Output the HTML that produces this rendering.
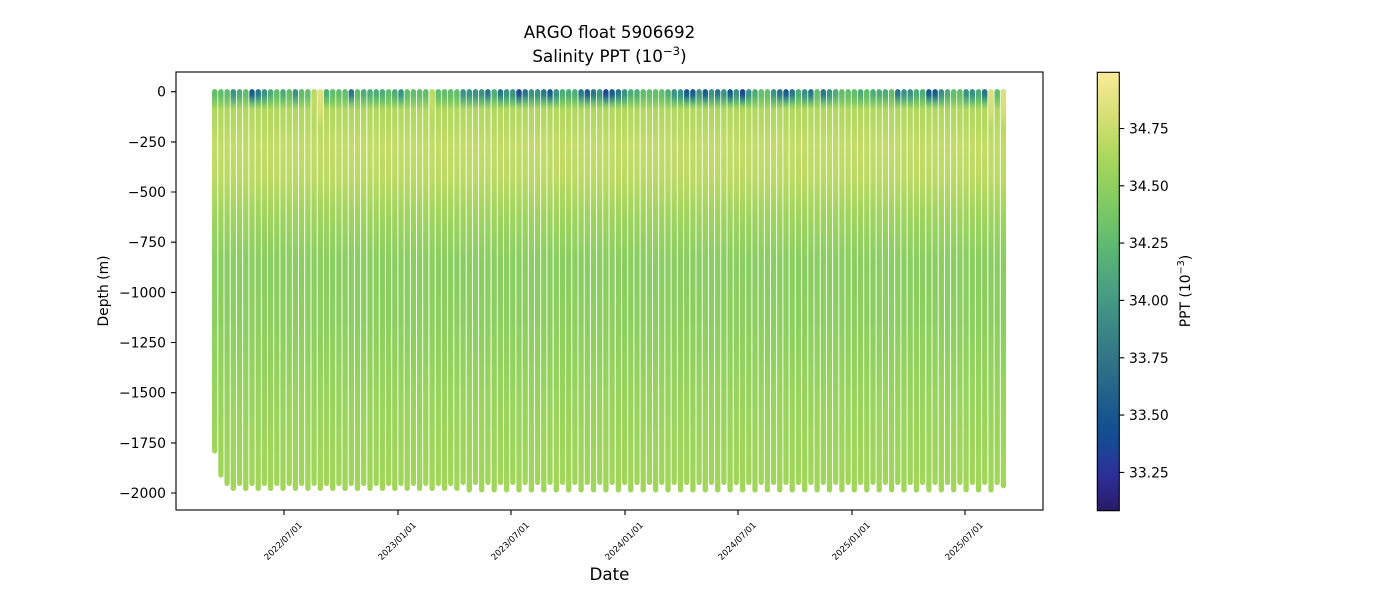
<!DOCTYPE html>
<html>
<head>
<meta charset="utf-8">
<style>
html,body{margin:0;padding:0;background:#fff;}
svg{display:block;}
text{font-family:"DejaVu Sans","Liberation Sans",sans-serif;fill:#000;}
.col{fill:none;stroke-width:5.3;stroke-linecap:round;}
</style>
</head>
<body>
<svg width="1400" height="600" viewBox="0 0 1400 600" xmlns="http://www.w3.org/2000/svg">
<defs>
<linearGradient id="body" gradientUnits="userSpaceOnUse" x1="0" y1="89" x2="0" y2="494">
<stop offset="0" stop-color="#78c664"/>
<stop offset="0.027" stop-color="#92d05f"/>
<stop offset="0.05" stop-color="#b2d85f"/>
<stop offset="0.09" stop-color="#b6d961"/>
<stop offset="0.14" stop-color="#c2dc67"/>
<stop offset="0.22" stop-color="#bbda63"/>
<stop offset="0.31" stop-color="#a0d45e"/>
<stop offset="0.42" stop-color="#8ace61"/>
<stop offset="0.57" stop-color="#8ccf60"/>
<stop offset="0.76" stop-color="#98d35d"/>
<stop offset="1" stop-color="#a3d65b"/>
</linearGradient>
<linearGradient id="cG" gradientUnits="userSpaceOnUse" x1="0" y1="89" x2="0" y2="110">
<stop offset="0" stop-color="#62bd6c"/><stop offset="0.3" stop-color="#64be6b"/><stop offset="1" stop-color="#7cc863" stop-opacity="0"/>
</linearGradient>
<linearGradient id="cGT" gradientUnits="userSpaceOnUse" x1="0" y1="89" x2="0" y2="110">
<stop offset="0" stop-color="#4cab79"/><stop offset="0.3" stop-color="#4fae78"/><stop offset="0.6" stop-color="#66bf6a" stop-opacity="0.7"/><stop offset="1" stop-color="#7cc863" stop-opacity="0"/>
</linearGradient>
<linearGradient id="cT" gradientUnits="userSpaceOnUse" x1="0" y1="89" x2="0" y2="110">
<stop offset="0" stop-color="#398f86"/><stop offset="0.3" stop-color="#3c9485"/><stop offset="0.6" stop-color="#55b176" stop-opacity="0.8"/><stop offset="1" stop-color="#7cc863" stop-opacity="0"/>
</linearGradient>
<linearGradient id="cTB" gradientUnits="userSpaceOnUse" x1="0" y1="89" x2="0" y2="110">
<stop offset="0" stop-color="#246f8a"/><stop offset="0.3" stop-color="#2c7c89"/><stop offset="0.6" stop-color="#50ab79" stop-opacity="0.8"/><stop offset="1" stop-color="#7cc863" stop-opacity="0"/>
</linearGradient>
<linearGradient id="cB" gradientUnits="userSpaceOnUse" x1="0" y1="89" x2="0" y2="110">
<stop offset="0" stop-color="#15548f"/><stop offset="0.3" stop-color="#1d638c"/><stop offset="0.6" stop-color="#46a17f" stop-opacity="0.85"/><stop offset="1" stop-color="#7cc863" stop-opacity="0"/>
</linearGradient>
<linearGradient id="cDB" gradientUnits="userSpaceOnUse" x1="0" y1="89" x2="0" y2="110">
<stop offset="0" stop-color="#2a3596"/><stop offset="0.3" stop-color="#1f558f"/><stop offset="0.6" stop-color="#40987f" stop-opacity="0.85"/><stop offset="1" stop-color="#7cc863" stop-opacity="0"/>
</linearGradient>
<linearGradient id="cY" gradientUnits="userSpaceOnUse" x1="0" y1="89" x2="0" y2="130">
<stop offset="0" stop-color="#dde282"/><stop offset="0.5" stop-color="#d8e07a"/><stop offset="0.75" stop-color="#cfde70" stop-opacity="0.8"/><stop offset="1" stop-color="#c2dc67" stop-opacity="0"/>
</linearGradient>
<linearGradient id="cYG" gradientUnits="userSpaceOnUse" x1="0" y1="89" x2="0" y2="120">
<stop offset="0" stop-color="#b8d862"/><stop offset="0.5" stop-color="#c4dc68"/><stop offset="1" stop-color="#c2dc67" stop-opacity="0"/>
</linearGradient>
<linearGradient id="cbar" x1="0" y1="0" x2="0" y2="1">
<stop offset="0" stop-color="#fbeb98"/>
<stop offset="0.05" stop-color="#e8e487"/>
<stop offset="0.1" stop-color="#d6df76"/>
<stop offset="0.15" stop-color="#bfdb66"/>
<stop offset="0.2" stop-color="#a8d65d"/>
<stop offset="0.25" stop-color="#93d05e"/>
<stop offset="0.3" stop-color="#80ca63"/>
<stop offset="0.35" stop-color="#6ec26a"/>
<stop offset="0.4" stop-color="#5eb873"/>
<stop offset="0.45" stop-color="#52ab7b"/>
<stop offset="0.5" stop-color="#489f82"/>
<stop offset="0.55" stop-color="#3f9186"/>
<stop offset="0.6" stop-color="#398386"/>
<stop offset="0.65" stop-color="#327688"/>
<stop offset="0.7" stop-color="#2a6a89"/>
<stop offset="0.75" stop-color="#1f5e8c"/>
<stop offset="0.8" stop-color="#13538f"/>
<stop offset="0.85" stop-color="#174894"/>
<stop offset="0.88" stop-color="#233c98"/>
<stop offset="0.92" stop-color="#2c2f96"/>
<stop offset="0.96" stop-color="#2b2481"/>
<stop offset="1" stop-color="#291a63"/>
</linearGradient>
</defs>

<rect x="0" y="0" width="1400" height="600" fill="#fff"/>

<text x="609.5" y="38" font-size="16.7" text-anchor="middle">ARGO float 5906692</text>
<text x="609.5" y="62" font-size="16.7" text-anchor="middle">Salinity PPT (10<tspan dy="-7" font-size="11.7">−3</tspan><tspan dy="7">)</tspan></text>

<g class="col" stroke="url(#body)">
<path d="M214.7 91.8V450.9M220.9 91.8V474.9M1003.4 91.8V485.6"/>
<path d="M227.1 91.8V483.4M239.5 91.8V483.4M252.0 91.8V483.4M264.4 91.8V483.4M276.8 91.8V483.4M289.2 91.8V483.4M301.6 91.8V483.4M314.1 91.8V483.4M326.5 91.8V483.4M338.9 91.8V483.4M351.3 91.8V483.4M363.7 91.8V483.4M376.2 91.8V483.4M388.6 91.8V483.4M401.0 91.8V483.4M413.4 91.8V483.4M425.8 91.8V483.4M438.3 91.8V483.4M450.7 91.8V483.4"/>
<path d="M233.3 91.8V488.4M245.8 91.8V488.4M258.2 91.8V488.4M270.6 91.8V488.4M283.0 91.8V488.4M295.4 91.8V488.4M307.9 91.8V488.4M320.3 91.8V488.4M332.7 91.8V488.4M345.1 91.8V488.4M357.5 91.8V488.4M370.0 91.8V488.4M382.4 91.8V488.4M394.8 91.8V488.4M407.2 91.8V488.4M419.6 91.8V488.4M432.1 91.8V488.4M444.5 91.8V488.4M456.9 91.8V488.4"/>
<path d="M463.1 91.8V482.4M475.5 91.8V482.4M487.9 91.8V482.4M500.4 91.8V482.4M512.8 91.8V482.4M525.2 91.8V482.4M537.6 91.8V482.4M550.0 91.8V482.4M562.5 91.8V482.4M574.9 91.8V482.4M587.3 91.8V482.4M599.7 91.8V482.4M612.1 91.8V482.4M624.6 91.8V482.4M637.0 91.8V482.4M649.4 91.8V482.4M661.8 91.8V482.4M674.2 91.8V482.4M686.7 91.8V482.4M699.1 91.8V482.4M711.5 91.8V482.4M723.9 91.8V482.4M736.3 91.8V482.4M748.8 91.8V482.4M761.2 91.8V482.4M773.6 91.8V482.4M786.0 91.8V482.4M798.4 91.8V482.4M810.9 91.8V482.4M823.3 91.8V482.4M835.7 91.8V482.4M848.1 91.8V482.4M860.5 91.8V482.4M873.0 91.8V482.4M885.4 91.8V482.4M897.8 91.8V482.4M910.2 91.8V482.4M922.6 91.8V482.4M935.1 91.8V482.4M947.5 91.8V482.4M959.9 91.8V482.4M972.3 91.8V482.4M984.7 91.8V482.4M997.2 91.8V482.4"/>
<path d="M469.3 91.8V489.9M481.7 91.8V489.9M494.2 91.8V489.9M506.6 91.8V489.9M519.0 91.8V489.9M531.4 91.8V489.9M543.8 91.8V489.9M556.3 91.8V489.9M568.7 91.8V489.9M581.1 91.8V489.9M593.5 91.8V489.9M605.9 91.8V489.9M618.4 91.8V489.9M630.8 91.8V489.9M643.2 91.8V489.9M655.6 91.8V489.9M668.0 91.8V489.9M680.5 91.8V489.9M692.9 91.8V489.9M705.3 91.8V489.9M717.7 91.8V489.9M730.1 91.8V489.9M742.6 91.8V489.9M755.0 91.8V489.9M767.4 91.8V489.9M779.8 91.8V489.9M792.2 91.8V489.9M804.7 91.8V489.9M817.1 91.8V489.9M829.5 91.8V489.9M841.9 91.8V489.9M854.3 91.8V489.9M866.8 91.8V489.9M879.2 91.8V489.9M891.6 91.8V489.9M904.0 91.8V489.9M916.4 91.8V489.9M928.9 91.8V489.9M941.3 91.8V489.9M953.7 91.8V489.9M966.1 91.8V489.9M978.5 91.8V489.9M991.0 91.8V489.9"/>
</g>

<path class="col" stroke="url(#cG)" d="M214.7 91.8V107.6M220.9 91.8V107.6M227.1 91.8V107.6M245.8 91.8V107.6M276.8 91.8V107.6M289.2 91.8V107.6M301.6 91.8V107.6M307.9 91.8V107.6M332.7 91.8V107.6M338.9 91.8V107.6M345.1 91.8V107.6M357.5 91.8V107.6M388.6 91.8V107.6M407.2 91.8V107.6M413.4 91.8V107.6M419.6 91.8V107.6M425.8 91.8V107.6M438.3 91.8V107.6M444.5 91.8V107.6M450.7 91.8V107.6M456.9 91.8V107.6M643.2 91.8V107.6M649.4 91.8V107.6M655.6 91.8V107.6M661.8 91.8V107.6M761.2 91.8V107.6M767.4 91.8V107.6M817.1 91.8V107.6M841.9 91.8V107.6M848.1 91.8V107.6M854.3 91.8V107.6M866.8 91.8V107.6M891.6 91.8V107.6M953.7 91.8V107.6M959.9 91.8V107.6M997.2 91.8V107.6"/>
<path class="col" stroke="url(#cGT)" d="M239.5 91.8V107.6M270.6 91.8V107.6M283.0 91.8V107.6M326.5 91.8V107.6M363.7 91.8V107.6M370.0 91.8V107.6M376.2 91.8V107.6M382.4 91.8V107.6M394.8 91.8V107.6M494.2 91.8V107.6M562.5 91.8V107.6M568.7 91.8V107.6M574.9 91.8V107.6M630.8 91.8V107.6M637.0 91.8V107.6M668.0 91.8V107.6M755.0 91.8V107.6M798.4 91.8V107.6M835.7 91.8V107.6M860.5 91.8V107.6M873.0 91.8V107.6M879.2 91.8V107.6M885.4 91.8V107.6M916.4 91.8V107.6M922.6 91.8V107.6M947.5 91.8V107.6M978.5 91.8V107.6"/>
<path class="col" stroke="url(#cT)" d="M233.3 91.8V107.6M264.4 91.8V107.6M295.4 91.8V107.6M401.0 91.8V107.6M463.1 91.8V107.6M469.3 91.8V107.6M475.5 91.8V107.6M481.7 91.8V107.6M506.6 91.8V107.6M512.8 91.8V107.6M531.4 91.8V107.6M537.6 91.8V107.6M556.3 91.8V107.6M599.7 91.8V107.6M624.6 91.8V107.6M674.2 91.8V107.6M680.5 91.8V107.6M699.1 91.8V107.6M711.5 91.8V107.6M723.9 91.8V107.6M736.3 91.8V107.6M748.8 91.8V107.6M773.6 91.8V107.6M804.7 91.8V107.6M829.5 91.8V107.6M904.0 91.8V107.6M910.2 91.8V107.6M941.3 91.8V107.6M966.1 91.8V107.6M972.3 91.8V107.6"/>
<path class="col" stroke="url(#cTB)" d="M258.2 91.8V107.6M351.3 91.8V107.6M487.9 91.8V107.6M500.4 91.8V107.6M525.2 91.8V107.6M543.8 91.8V107.6M581.1 91.8V107.6M593.5 91.8V107.6M618.4 91.8V107.6M717.7 91.8V107.6M779.8 91.8V107.6M792.2 91.8V107.6M810.9 91.8V107.6M823.3 91.8V107.6M897.8 91.8V107.6M984.7 91.8V107.6"/>
<path class="col" stroke="url(#cB)" d="M252.0 91.8V107.6M550.0 91.8V107.6M587.3 91.8V107.6M612.1 91.8V107.6M686.7 91.8V107.6M692.9 91.8V107.6M705.3 91.8V107.6M730.1 91.8V107.6M786.0 91.8V107.6M928.9 91.8V107.6M935.1 91.8V107.6"/>
<path class="col" stroke="url(#cDB)" d="M519.0 91.8V107.6M605.9 91.8V107.6M742.6 91.8V107.6"/>
<path class="col" stroke="url(#cY)" d="M320.3 91.8V127.4M991.0 91.8V127.4M1003.4 91.8V127.4"/>
<path class="col" stroke="url(#cYG)" d="M314.1 91.8V117.4M432.1 91.8V117.4"/>

<rect x="176" y="72" width="867" height="438" fill="none" stroke="#000" stroke-width="1.1"/>

<path stroke="#000" stroke-width="1.1" d="M171 91.7H176M171 141.9H176M171 192.0H176M171 242.2H176M171 292.4H176M171 342.5H176M171 392.7H176M171 442.9H176M171 493.0H176"/>
<g font-size="13.9" text-anchor="end">
<text x="166" y="96.7">0</text>
<text x="166" y="146.9">−250</text>
<text x="166" y="197.0">−500</text>
<text x="166" y="247.2">−750</text>
<text x="166" y="297.4">−1000</text>
<text x="166" y="347.5">−1250</text>
<text x="166" y="397.7">−1500</text>
<text x="166" y="447.9">−1750</text>
<text x="166" y="498.0">−2000</text>
</g>
<text transform="translate(108,291) rotate(-90)" font-size="13.9" text-anchor="middle">Depth (m)</text>

<path stroke="#000" stroke-width="1.1" d="M284 510V515M398 510V515M511 510V515M625 510V515M738 510V515M852 510V515M965 510V515"/>
<g font-size="8.6" text-anchor="middle">
<text transform="translate(283,541) rotate(-45)" dy="3">2022/07/01</text>
<text transform="translate(397,541) rotate(-45)" dy="3">2023/01/01</text>
<text transform="translate(510,541) rotate(-45)" dy="3">2023/07/01</text>
<text transform="translate(624,541) rotate(-45)" dy="3">2024/01/01</text>
<text transform="translate(737,541) rotate(-45)" dy="3">2024/07/01</text>
<text transform="translate(851,541) rotate(-45)" dy="3">2025/01/01</text>
<text transform="translate(964,541) rotate(-45)" dy="3">2025/07/01</text>
</g>
<text x="609.5" y="580" font-size="16.7" text-anchor="middle">Date</text>

<rect x="1097.3" y="72.3" width="22" height="438.4" fill="url(#cbar)" stroke="#000" stroke-width="1.1"/>
<path stroke="#000" stroke-width="1.1" d="M1119.3 128.5H1124.3M1119.3 185.8H1124.3M1119.3 243.1H1124.3M1119.3 300.4H1124.3M1119.3 357.8H1124.3M1119.3 415.1H1124.3M1119.3 472.4H1124.3"/>
<g font-size="13.9">
<text x="1129" y="133.5">34.75</text>
<text x="1129" y="190.8">34.50</text>
<text x="1129" y="248.1">34.25</text>
<text x="1129" y="305.4">34.00</text>
<text x="1129" y="362.8">33.75</text>
<text x="1129" y="420.1">33.50</text>
<text x="1129" y="477.4">33.25</text>
</g>
<text transform="translate(1190,291) rotate(-90)" font-size="13.9" text-anchor="middle">PPT (10<tspan dy="-6" font-size="9.7">−3</tspan><tspan dy="6">)</tspan></text>
</svg>
</body>
</html>
